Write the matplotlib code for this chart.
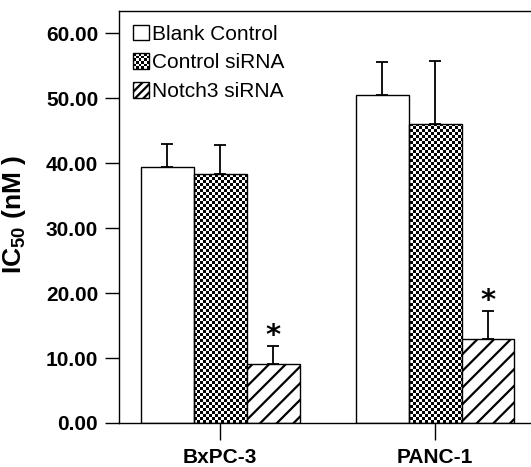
import numpy as np
import matplotlib
matplotlib.use('Agg')
import matplotlib.pyplot as plt
from matplotlib.legend_handler import HandlerPatch
from matplotlib.image import BboxImage
from matplotlib.transforms import Bbox, TransformedBbox
from matplotlib.patches import Rectangle
from matplotlib.colors import Normalize

plt.rcParams['font.family'] = ['Liberation Sans', 'DejaVu Sans']
plt.rcParams['mathtext.fontset'] = 'custom'
plt.rcParams['mathtext.rm'] = 'Liberation Sans'
plt.rcParams['hatch.linewidth'] = 1.6

# データ
cell_lines = ['BxPC-3', 'PANC-1']
groups = ['Blank Control', 'Control siRNA', 'Notch3 siRNA']
blank = [39.4, 50.5]
blank_err = [3.5, 5.1]
ctrl_sirna = [38.3, 46.0]
ctrl_sirna_err = [4.5, 9.7]
notch3 = [9.1, 12.9]
notch3_err = [2.7, 4.3]
yticks = [0, 10, 20, 30, 40, 50, 60]

# チェック柄（3px角）
def checker(n_rows, n_cols):
    return (np.add.outer(np.arange(n_rows), np.arange(n_cols)) % 2).astype(float)


class CheckerHandler(HandlerPatch):
    def create_artists(self, legend, orig_handle, xdescent, ydescent,
                       width, height, fontsize, trans):
        bb = TransformedBbox(Bbox.from_bounds(-xdescent, -ydescent, width, height), trans)
        img = BboxImage(bb, cmap='gray', interpolation='nearest', norm=Normalize(0, 1))
        img.set_data(checker(6, 6))
        rect = Rectangle((-xdescent, -ydescent), width, height,
                         facecolor='none', edgecolor='black', lw=1.0, transform=trans)
        return [img, rect]


fig = plt.figure(figsize=(5.31, 4.67), dpi=100)
ax = fig.add_axes([119 / 531, 44 / 467, 412 / 531, 412 / 467])

x = np.arange(len(cell_lines))
w = 0.2465
ekw = dict(elinewidth=1.3, capthick=1.3, ecolor='black')

b1 = ax.bar(x - w, blank, w, color='white', edgecolor='black', lw=1.0, zorder=2)
ax.errorbar(x - w, blank, yerr=[[0, 0], blank_err], fmt='none', capsize=4.5, zorder=3, **ekw)

b2 = ax.bar(x, ctrl_sirna, w, color='white', edgecolor='black', lw=1.0, zorder=2)
ax.errorbar(x, ctrl_sirna, yerr=[[0, 0], ctrl_sirna_err], fmt='none', capsize=4.5, zorder=3, **ekw)

b3 = ax.bar(x + w, notch3, w, color='white', edgecolor='black', lw=1.0, hatch='//', zorder=2)
ax.errorbar(x + w, notch3, yerr=[[0, 0], notch3_err], fmt='none', capsize=4.5, zorder=3, **ekw)

# 有意差マーク
for xi, v, e in zip(x + w, notch3, notch3_err):
    ax.text(xi, v + e + 0.3, '*', ha='center', va='baseline', fontsize=21,
            fontweight='bold', family='DejaVu Sans')

xlim = (-0.4698, 1.4465)
ylim = (0, 63.4)

# チェック柄をバーに貼る
px_x = 215.0
px_y = 6.5
n = 140
checker_img = checker(n, n)
for bar in b2:
    im = ax.imshow(checker_img, cmap='gray', vmin=0, vmax=1, interpolation='nearest',
                   extent=(xlim[0], xlim[0] + n * 3 / px_x, 0, n * 3 / px_y),
                   aspect='auto', origin='lower', zorder=1.5)
    im.set_clip_path(bar)
for bar in b2:
    bar.set_facecolor('none')

ax.set_xlim(*xlim)
ax.set_ylim(*ylim)
ax.set_xticks(x)
ax.set_xticklabels(cell_lines, fontsize=15, fontweight='bold')
ax.set_yticks(yticks)
ax.set_yticklabels(['%.2f' % t for t in yticks], fontsize=15, fontweight='bold')
ax.tick_params(axis='y', length=10, width=1.0, pad=5)
ax.tick_params(axis='x', length=12, width=1.0, pad=6)
ax.spines['right'].set_visible(False)
for s in ['left', 'top', 'bottom']:
    ax.spines[s].set_linewidth(1.0)

ax.set_ylabel(r'IC$_{\mathregular{50}}$ (nM )', fontsize=19, fontweight='bold')
ax.yaxis.set_label_coords(-0.22, 0.507)

# 凡例用のハンドル
h1 = Rectangle((0, 0), 1, 1, facecolor='white', edgecolor='black', lw=1.0)
h2 = Rectangle((0, 0), 1, 1, facecolor='white', edgecolor='black', lw=1.0)
h3 = Rectangle((0, 0), 1, 1, facecolor='white', edgecolor='black', lw=1.0, hatch='////')
ax.legend(handles=[h1, h2, h3], labels=groups, loc='upper left', frameon=False,
          fontsize=15, handlelength=0.8, handleheight=0.8, handletextpad=0.15,
          labelspacing=0.45, borderpad=0.2, borderaxespad=0.45,
          handler_map={h2: CheckerHandler()})

fig.savefig('out.png', dpi=100)
